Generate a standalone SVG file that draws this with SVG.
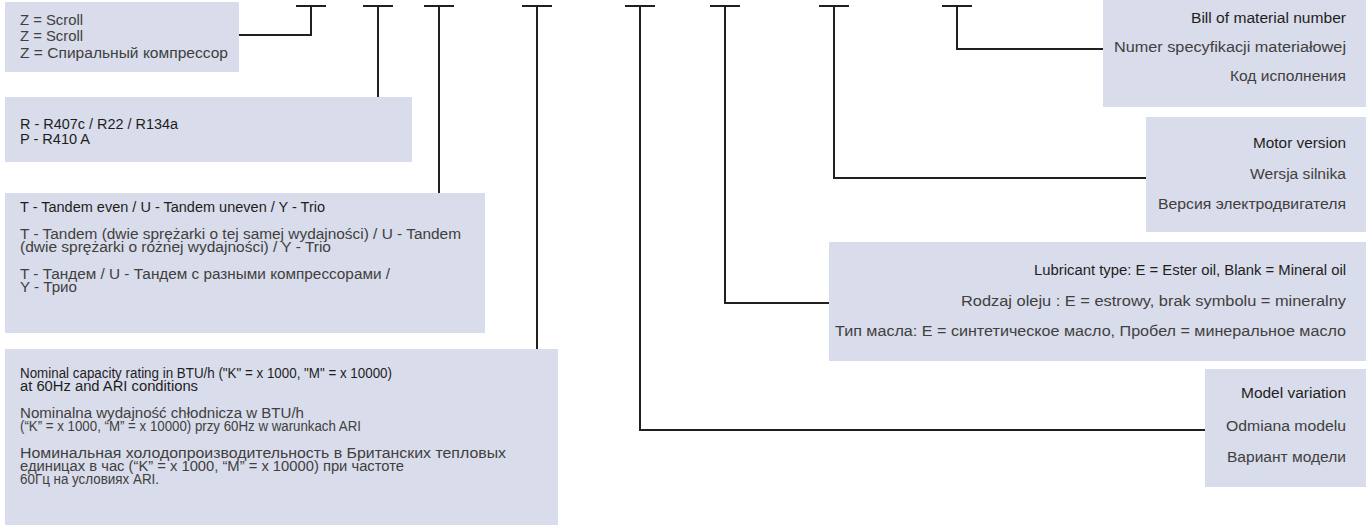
<svg xmlns="http://www.w3.org/2000/svg" width="1366" height="526" viewBox="0 0 1366 526">
<style>
.box{fill:#d9dcea}
.c{fill:none;stroke:#231f20;stroke-width:2}
text{font-family:"Liberation Sans",Arial,sans-serif;font-size:14px}
.en{fill:#1e1e1e}
.tx{fill:#404040}
</style>
<rect width="1366" height="526" fill="#ffffff"/>
<g id="connectors" class="c">
<path d="M296,6 H326 M311,6 V35 H239"/>
<path d="M363,6 H393 M378,6 V97"/>
<path d="M424,6 H454 M439,6 V193"/>
<path d="M522,6 H552 M537,6 V349"/>
<path d="M625,6 H655 M640,6 V430 H1205"/>
<path d="M710,6 H740 M725,6 V303 H829"/>
<path d="M819,6 H849 M834,6 V178 H1146"/>
<path d="M942,6 H972 M957,6 V49 H1103"/>
</g>
<g id="node-compressor-type">
<rect class="box" x="5" y="2" width="234" height="70"/>
<text class="tx" x="20" y="25" textLength="63" lengthAdjust="spacingAndGlyphs">Z = Scroll</text>
<text class="tx" x="20" y="41" textLength="63" lengthAdjust="spacingAndGlyphs">Z = Scroll</text>
<text class="tx" x="20" y="57.5" textLength="208" lengthAdjust="spacingAndGlyphs">Z = Спиральный компрессор</text>
</g>
<g id="node-refrigerant">
<rect class="box" x="5" y="97" width="407" height="65"/>
<text class="en" x="20" y="128.5" textLength="158" lengthAdjust="spacingAndGlyphs">R - R407c / R22 / R134a</text>
<text class="en" x="20" y="143.5" textLength="70" lengthAdjust="spacingAndGlyphs">P - R410 A</text>
</g>
<g id="node-tandem">
<rect class="box" x="5" y="193" width="480" height="140"/>
<text class="en" x="20" y="212" textLength="305" lengthAdjust="spacingAndGlyphs">T - Tandem even / U - Tandem uneven / Y - Trio</text>
<text class="tx" x="20" y="239" textLength="441" lengthAdjust="spacingAndGlyphs">T - Tandem (dwie sprężarki o tej samej wydajności) / U - Tandem</text>
<text class="tx" x="20" y="252" textLength="311" lengthAdjust="spacingAndGlyphs">(dwie sprężarki o różnej wydajności) / Y - Trio</text>
<text class="tx" x="20" y="279" textLength="370" lengthAdjust="spacingAndGlyphs">T - Тандем / U - Тандем с разными компрессорами /</text>
<text class="tx" x="20" y="292" textLength="57" lengthAdjust="spacingAndGlyphs">Y - Трио</text>
</g>
<g id="node-capacity">
<rect class="box" x="5" y="349" width="553" height="176"/>
<text class="en" x="20" y="378" textLength="372" lengthAdjust="spacingAndGlyphs">Nominal capacity rating in BTU/h ("K" = x 1000, "M" = x 10000)</text>
<text class="en" x="20" y="391" textLength="178" lengthAdjust="spacingAndGlyphs">at 60Hz and ARI conditions</text>
<text class="tx" x="20" y="418" textLength="284" lengthAdjust="spacingAndGlyphs">Nominalna wydajność chłodnicza w BTU/h</text>
<text class="tx" x="20" y="431" textLength="341" lengthAdjust="spacingAndGlyphs">(“K” = x 1000, “M” = x 10000) przy 60Hz w warunkach ARI</text>
<text class="tx" x="20" y="458" textLength="486" lengthAdjust="spacingAndGlyphs">Номинальная холодопроизводительность в Британских тепловых</text>
<text class="tx" x="20" y="471" textLength="384" lengthAdjust="spacingAndGlyphs">единицах в час (“K” = x 1000, “M” = x 10000) при частоте</text>
<text class="tx" x="20" y="484" textLength="139" lengthAdjust="spacingAndGlyphs">60Гц на условиях ARI.</text>
</g>
<g id="node-bom">
<rect class="box" x="1103" y="0" width="263" height="107"/>
<text class="en" x="1191" y="23" textLength="155" lengthAdjust="spacingAndGlyphs">Bill of material number</text>
<text class="tx" x="1114" y="52" textLength="232" lengthAdjust="spacingAndGlyphs">Numer specyfikacji materiałowej</text>
<text class="tx" x="1230" y="81" textLength="116" lengthAdjust="spacingAndGlyphs">Код исполнения</text>
</g>
<g id="node-motor">
<rect class="box" x="1146" y="117" width="220" height="115"/>
<text class="en" x="1253" y="148" textLength="93" lengthAdjust="spacingAndGlyphs">Motor version</text>
<text class="tx" x="1250" y="179" textLength="96" lengthAdjust="spacingAndGlyphs">Wersja silnika</text>
<text class="tx" x="1158" y="209" textLength="188" lengthAdjust="spacingAndGlyphs">Версия электродвигателя</text>
</g>
<g id="node-lubricant">
<rect class="box" x="829" y="242" width="537" height="119"/>
<text class="en" x="1034" y="275" textLength="312" lengthAdjust="spacingAndGlyphs">Lubricant type: E = Ester oil, Blank = Mineral oil</text>
<text class="tx" x="961" y="306" textLength="385" lengthAdjust="spacingAndGlyphs">Rodzaj oleju : E = estrowy, brak symbolu = mineralny</text>
<text class="tx" x="835" y="336" textLength="511" lengthAdjust="spacingAndGlyphs">Тип масла: E = синтетическое масло, Пробел = минеральное масло</text>
</g>
<g id="node-model">
<rect class="box" x="1205" y="369" width="161" height="118"/>
<text class="en" x="1241" y="398" textLength="105" lengthAdjust="spacingAndGlyphs">Model variation</text>
<text class="tx" x="1226" y="431" textLength="120" lengthAdjust="spacingAndGlyphs">Odmiana modelu</text>
<text class="tx" x="1227" y="462" textLength="119" lengthAdjust="spacingAndGlyphs">Вариант модели</text>
</g>
</svg>
